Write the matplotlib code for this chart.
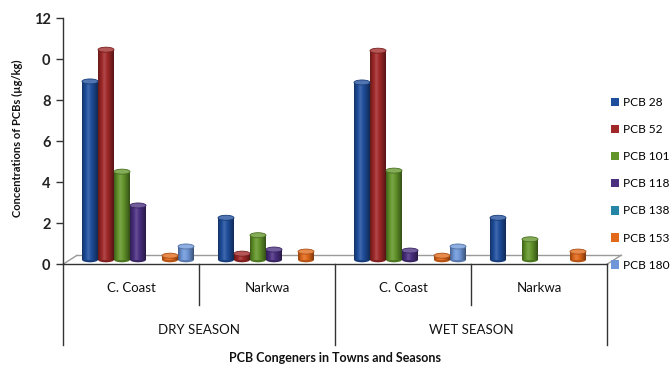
import numpy as np
import matplotlib
matplotlib.use("Agg")
import matplotlib.pyplot as plt
from matplotlib.patches import Ellipse, Patch
from matplotlib.transforms import ScaledTranslation
from matplotlib.colors import to_rgb

# ---- data -------------------------------------------------------------
towns = ["C. Coast", "Narkwa", "C. Coast", "Narkwa"]
seasons = ["DRY SEASON", "WET SEASON"]
congeners = ["PCB 28", "PCB 52", "PCB 101", "PCB 118", "PCB 138", "PCB 153", "PCB 180"]
colors = ["#1f4e9c", "#a02828", "#62952a", "#4a2f80", "#2585a5", "#e2691a", "#6e96d8"]

# concentrations (µg/kg) per town/season column: dry C.Coast, dry Narkwa, wet C.Coast, wet Narkwa
pcb28 = [8.7, 2.05, 8.65, 2.05]
pcb52 = [10.25, 0.3, 10.2, 0.0]
pcb101 = [4.3, 1.2, 4.35, 1.0]
pcb118 = [2.65, 0.5, 0.45, 0.0]
pcb138 = [0.0, 0.0, 0.0, 0.0]
pcb153 = [0.2, 0.4, 0.2, 0.4]
pcb180 = [0.65, 0.0, 0.65, 0.0]
series = [pcb28, pcb52, pcb101, pcb118, pcb138, pcb153, pcb180]

yticks = [0, 2, 4, 6, 8, 10, 12]
ytick_labels = ["0", "2", "4", "6", "8", "0", "12"]

# ---- figure -----------------------------------------------------------
plt.rcParams["font.family"] = ["Lato", "DejaVu Sans"]
W, H, DPI = 670, 365, 100
fig = plt.figure(figsize=(W / DPI, H / DPI), dpi=DPI)
fig.patch.set_facecolor("white")

ax_left, ax_right, ax_bottom, ax_top = 63, 607, 100.7, 346.7
ax = fig.add_axes([ax_left / W, ax_bottom / H, (ax_right - ax_left) / W, (ax_top - ax_bottom) / H])
ax.set_xlim(0, 4)
ax.set_ylim(0, 12)
ax.set_facecolor("none")

px_x = (ax_right - ax_left) / 4.0      # pixels per category
px_y = (ax_top - ax_bottom) / 12.0     # pixels per unit

# depth of the pseudo-3D floor (pixels)
depth_dx, depth_dy = 14, 9
mid_shift = ScaledTranslation(depth_dx / 2 / DPI, depth_dy / 2 / DPI, fig.dpi_scale_trans)
bar_tr = ax.transData + mid_shift

# floor
ddx, ddy = depth_dx / px_x, depth_dy / px_y
ax.plot([ddx, 4 + ddx], [ddy, ddy], color="#9a9a9a", lw=1.0, clip_on=False, zorder=1)
ax.plot([0, ddx], [0, ddy], color="#9a9a9a", lw=1.0, clip_on=False, zorder=1)
ax.plot([4, 4 + ddx], [0, ddy], color="#9a9a9a", lw=1.0, clip_on=False, zorder=1)


def shade(c, f):
    c = np.array(to_rgb(c))
    if f <= 1:
        return c * f
    return c + (1 - c) * (f - 1)


t = np.linspace(0, 1, 64)
profile = np.where(t < 0.38, 0.62 + 0.53 * (t / 0.38) ** 0.8,
                   1.15 - 0.62 * ((t - 0.38) / 0.62) ** 1.3)

bw = 16 / px_x
ell_h = 5 / px_y
centers = np.arange(4) + 0.5

for k, (vals, col) in enumerate(zip(series, colors)):
    xs = centers + (k - 3) * bw
    bars = ax.bar(xs, vals, bw, color=col, linewidth=0, transform=bar_tr, zorder=3 + k * 0.01)
    grad = np.array([shade(col, f) for f in profile])[None, :, :]
    for xc, v, patch in zip(xs, vals, bars.patches):
        if v <= 0:
            continue
        # lower rim
        ax.add_patch(Ellipse((xc, 0), bw, ell_h, facecolor=shade(col, 0.8), edgecolor="none",
                             transform=bar_tr, zorder=2.9))
        im = ax.imshow(grad, extent=(xc - bw / 2, xc + bw / 2, 0, v), aspect="auto",
                       transform=bar_tr, zorder=3 + k * 0.01, interpolation="bilinear")
        im.set_clip_path(patch)
        # top cap
        ax.add_patch(Ellipse((xc, v), bw, ell_h, facecolor=shade(col, 1.22),
                             edgecolor=shade(col, 0.75), lw=0.6, transform=bar_tr,
                             zorder=3.2 + k * 0.01))

ax.set_xlim(0, 4)
ax.set_ylim(0, 12)

# ---- axes styling -----------------------------------------------------
for s in ["top", "right", "bottom"]:
    ax.spines[s].set_visible(False)
ax.spines["left"].set_color("#333333")
ax.spines["left"].set_linewidth(1.0)
ax.set_xticks([])
ax.set_yticks(yticks)
ax.set_yticklabels(ytick_labels, fontsize=10.5, fontweight="bold", color="#222222")
ax.tick_params(axis="y", length=5, width=1, color="#333333", pad=4)

# category axis (two levels)
def py(p):
    return (264.3 - p) / px_y

ax.plot([0, 4], [0, 0], color="#333333", lw=1.0, clip_on=False, zorder=4)
for xv in [0, 2, 4]:
    ax.plot([xv, xv], [0, py(345)], color="#333333", lw=1.0, clip_on=False)
for xv in [1, 3]:
    ax.plot([xv, xv], [0, py(305)], color="#333333", lw=1.0, clip_on=False)
for i, name in enumerate(towns):
    ax.text(i + 0.5, py(288), name, ha="center", va="center", fontsize=9.5, color="#111111",
            clip_on=False)
for j, name in enumerate(seasons):
    ax.text(2 * j + 1, py(330), name, ha="center", va="center", fontsize=9.5, color="#111111",
            clip_on=False)

fig.text(335 / W, 1 - 358 / H, "PCB Congeners in Towns and Seasons", ha="center", va="center",
         fontsize=9, fontweight="bold", color="#111111")
fig.text(17 / W, 1 - 138 / H, "Concentrations of PCBs (µg/kg)", ha="center", va="center",
         rotation=90, fontsize=8, fontweight="bold", color="#111111")

# legend
handles = [Patch(facecolor=c, edgecolor="none") for c in colors]
fig.legend(handles, congeners, loc="upper left", bbox_to_anchor=(611 / W, 1 - 97 / H),
           frameon=False, fontsize=8.6, handlelength=0.7, handleheight=0.7,
           handletextpad=0.3, labelspacing=1.35, borderpad=0, borderaxespad=0)

fig.savefig("out.png", dpi=DPI, facecolor="white")
